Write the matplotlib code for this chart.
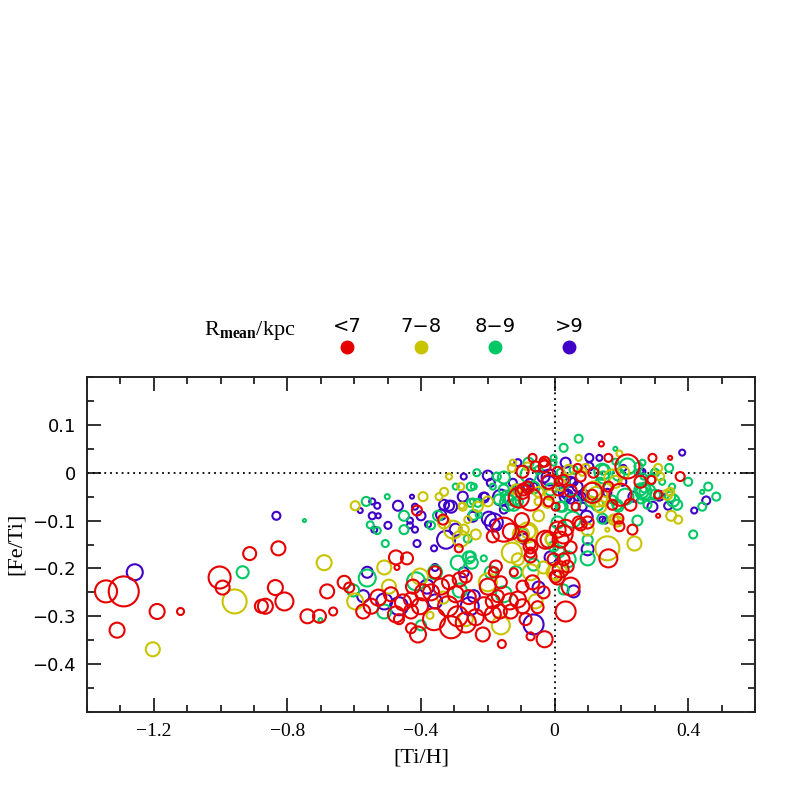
import matplotlib
matplotlib.use("Agg")
import matplotlib.pyplot as plt
from matplotlib.ticker import MultipleLocator, FixedLocator

plt.rcParams["mathtext.fontset"] = "custom"
plt.rcParams["mathtext.rm"] = "Liberation Serif"
plt.rcParams["mathtext.bf"] = "Liberation Serif:bold"

# ---------------- data: [Ti/H], [Fe/Ti], weight (symbol size variable) ----------------
red_pts = [
    (-1.343,-0.248,11),(-1.290,-0.248,15),(-1.310,-0.329,7.5),(-1.190,-0.290,7.5),(-1.120,-0.290,3.5),
    (-1.003,-0.219,11),(-0.994,-0.240,7),(-0.913,-0.169,6.5),(-0.827,-0.158,7),(-0.836,-0.240,7.5),
    (-0.878,-0.279,6.5),(-0.866,-0.279,7.5),(-0.809,-0.269,9),(-0.740,-0.300,7),(-0.704,-0.300,6.5),
    (-0.663,-0.290,4),(-0.681,-0.248,7),(-0.630,-0.229,6.5),(-0.615,-0.240,5),(-0.573,-0.290,7),
    (-0.549,-0.279,7.5),
    (-0.475,-0.177,7),(-0.442,-0.179,6),(-0.472,-0.198,2.5),(-0.528,-0.261,8),(-0.490,-0.254,7),
    (-0.454,-0.271,8),(-0.475,-0.296,8),(-0.466,-0.306,5),(-0.430,-0.265,7),(-0.430,-0.290,7),
    (-0.424,-0.238,7),(-0.394,-0.250,8),(-0.403,-0.279,8),(-0.430,-0.325,5),(-0.409,-0.338,8),
    (-0.370,-0.250,8),(-0.358,-0.208,6),(-0.361,-0.306,11),(-0.340,-0.238,8),(-0.316,-0.229,7),
    (-0.319,-0.279,10),(-0.310,-0.323,11),(-0.290,-0.300,10),(-0.296,-0.254,8),(-0.284,-0.223,7),
    (-0.266,-0.217,6),(-0.287,-0.158,4),(-0.334,-0.098,5),(-0.266,-0.313,10),(-0.236,-0.302,8),
    (-0.257,-0.260,7),(-0.212,-0.279,9),(-0.215,-0.338,7),(-0.200,-0.238,8),(-0.176,-0.196,6),
    (-0.182,-0.208,5),(-0.161,-0.229,6),(-0.170,-0.258,6),(-0.185,-0.269,7),(-0.164,-0.290,7),
    (-0.185,-0.296,8),(-0.158,-0.358,4),(-0.134,-0.269,8),(-0.131,-0.290,7),(-0.122,-0.208,4),
    (-0.110,-0.265,8),(-0.096,-0.279,7),(-0.096,-0.238,6),(-0.087,-0.306,6),(-0.072,-0.154,7),
    (-0.072,-0.175,6),(-0.066,-0.229,7),(-0.072,-0.342,4),(-0.030,-0.348,8),(-0.051,-0.281,6),
    (-0.033,-0.250,6),(0.009,-0.219,7),(-0.003,-0.181,6),(0.027,-0.181,6),(0.033,-0.290,10),
    (0.048,-0.238,9),(0.018,-0.202,8),(0.003,-0.217,6),(0.039,-0.196,6),(0.161,-0.179,9),
    (-0.152,-0.119,12),(-0.098,-0.099,7),(-0.072,-0.056,11),(-0.072,-0.150,5),(-0.072,-0.167,5),
    (-0.027,-0.140,9),(-0.066,0.031,4),(-0.096,0.002,6),(-0.033,0.021,4),(-0.018,-0.019,7),
    (0.027,-0.015,5),(-0.093,-0.035,6),(-0.412,-0.079,5),(0.233,-0.119,5),(0.194,-0.112,5),
    (0.099,-0.104,6),(0.078,-0.108,6),(0.027,-0.129,9),(0.009,-0.119,8),(0.018,-0.140,8),
    (0.048,-0.156,6),(0.227,-0.067,6),(0.173,-0.067,5),(0.310,-0.090,2),(0.310,-0.046,4),
    (0.063,-0.071,4),(0.113,-0.046,5),(0.140,0.060,2.5),(0.293,0.031,4),(0.346,0.031,2),
    (0.376,-0.008,4.5),(0.218,0.013,12),(0.161,0.031,4),(0.116,0.000,5),(0.078,-0.008,5),
    (0.113,-0.042,10),(0.197,-0.046,11),(0.257,-0.019,6),(0.290,-0.015,4),(-0.030,0.023,5),
    (-0.057,0.013,5),(-0.030,0.013,6),(0.009,0.002,5),(0.069,0.010,4),(0.161,-0.029,5),
    (0.012,-0.019,4),(-0.081,-0.031,6),(-0.096,-0.040,7),(-0.107,-0.052,10),(0.012,-0.035,6),
    (0.048,-0.038,6),(0.003,-0.071,4),(-0.018,-0.060,5),(0.191,-0.096,5),(0.033,-0.115,8),
    (0.072,-0.104,6),(-0.018,-0.140,8),(-0.131,-0.123,8),(-0.096,-0.133,5),(-0.185,-0.133,6),
]

yellow_pts = [
    (-1.203,-0.369,7),(-0.958,-0.269,12),(-0.690,-0.188,7.5),(-0.597,-0.269,8),(-0.597,-0.069,4.5),
    (-0.510,-0.198,7),(-0.496,-0.238,7),(-0.403,-0.217,8),(-0.373,-0.298,3.5),(-0.334,-0.261,6),
    (-0.266,-0.306,7),(-0.200,-0.229,9),(-0.161,-0.319,9),(-0.128,-0.167,10),(-0.110,-0.181,6),
    (-0.072,-0.208,8),(-0.057,-0.269,7),(-0.033,-0.198,6),(-0.003,-0.208,7),(0.009,-0.206,9),
    (-0.012,-0.140,5),(0.099,-0.119,6),(0.158,-0.119,2),(0.188,-0.102,5),(0.158,-0.158,12),
    (0.239,-0.148,7),(0.349,-0.090,5),(0.370,-0.098,4),(-0.394,-0.050,4.5),(-0.346,-0.050,3.5),
    (-0.331,-0.040,4),(-0.316,-0.008,3),(-0.281,-0.029,3.5),(-0.278,-0.069,3),(-0.331,-0.104,6),
    (-0.304,-0.119,9),(-0.281,-0.138,8),(-0.236,-0.129,5),(-0.260,-0.098,3.5),(-0.230,-0.071,5),
    (-0.101,-0.129,8),(-0.078,-0.123,7),(-0.048,-0.090,5.5),(-0.009,-0.138,6),(-0.125,0.021,3),
    (-0.081,0.013,4),(-0.021,-0.063,5),(-0.048,-0.060,4),(0.146,-0.060,5),(0.137,-0.071,6),
    (0.337,-0.046,5),(0.194,0.040,3),(0.310,0.010,4),(0.316,-0.008,4),(0.206,0.000,6),
    (0.072,0.031,3),(0.093,0.010,4),(0.116,-0.035,8),(0.173,-0.010,8),(0.182,-0.019,6),
    (0.176,-0.098,5),(0.346,-0.040,4),(-0.128,0.010,4),(0.042,0.006,5),(0.084,0.002,4),
    (-0.048,-0.040,5),(0.018,-0.025,6),(0.128,-0.050,10),(0.179,-0.096,4),(-0.015,-0.046,5),
    (-0.275,-0.071,4),(-0.200,-0.060,5),(-0.116,-0.035,5),(-0.272,-0.119,5),(-0.081,-0.125,10),
]

green_pts = [
    (-0.934,-0.208,6),(-0.701,-0.308,2),(-0.749,-0.100,1.5),(-0.603,-0.246,6),(-0.561,-0.220,8.5),
    (-0.552,-0.109,3.5),(-0.531,-0.121,3.5),(-0.510,-0.290,7),(-0.415,-0.227,9),(-0.400,-0.319,5),
    (-0.358,-0.208,7),(-0.284,-0.246,7),(-0.290,-0.188,7),(-0.257,-0.177,6),(-0.248,-0.188,6),
    (-0.212,-0.179,3),(-0.191,-0.208,6),(-0.152,-0.254,8),(-0.116,-0.208,6),(-0.063,-0.192,6),
    (0.027,-0.244,5),(0.039,-0.181,8),(0.099,-0.179,7),(0.099,-0.140,5),(0.143,-0.096,5),
    (0.248,-0.100,5),(0.054,-0.098,8),(-0.003,-0.154,5),(0.012,-0.165,6),(0.188,-0.067,5),
    (0.266,-0.040,8),(0.301,-0.046,5),(0.278,-0.067,4),(0.024,-0.071,5),(0.107,-0.060,5),
    (0.072,0.071,4),(0.182,0.050,2),(0.027,0.052,4),(0.343,0.010,4),(0.400,-0.019,4),
    (0.460,-0.029,4),(0.442,-0.040,2),(0.484,-0.050,4),(0.442,-0.071,4),(0.415,-0.129,4),
    (0.367,-0.067,5),(0.355,-0.058,6),(0.346,-0.050,5),(0.352,-0.029,3),(0.278,-0.040,8),
    (0.263,-0.040,6),(0.257,-0.035,6),(0.270,-0.031,5),(0.257,-0.058,3),(0.191,-0.071,5),
    (0.173,-0.056,4),(0.251,0.013,4),(0.301,0.000,4),(0.287,-0.015,5),(0.322,-0.019,3),
    (0.182,0.023,3),(0.218,0.013,8),(0.143,0.002,8),(0.146,-0.010,6),(0.057,0.006,4),
    (0.266,-0.008,3),(-0.501,-0.050,2.5),(-0.564,-0.060,4.5),(-0.451,-0.090,5),(-0.451,-0.119,4.5),
    (-0.370,-0.110,4),(-0.349,-0.090,5),(-0.507,-0.148,3.5),(-0.260,-0.138,4),(-0.245,-0.060,3),
    (-0.251,-0.029,4),(-0.233,0.000,3.5),(-0.227,-0.088,3),(-0.173,-0.008,4),(-0.167,-0.056,5),
    (-0.143,-0.050,6),(-0.096,-0.129,6),(-0.110,-0.060,5),(-0.078,0.021,5),(-0.003,0.021,3),
    (0.018,0.000,4),(-0.152,-0.010,6),(-0.110,-0.035,5),(-0.012,-0.035,6),(0.018,-0.071,5),
    (-0.003,0.031,3),(0.263,0.021,3),(-0.078,-0.004,8),(-0.048,0.006,4),(0.146,0.006,5),
    (0.191,-0.004,6),(0.137,-0.021,5),(0.248,0.000,3),(0.299,0.002,3),(0.027,-0.021,6),
    (-0.063,-0.031,6),(-0.125,-0.052,8),(0.054,-0.063,8),(0.128,-0.067,6),(0.212,-0.050,8),
    (0.009,-0.104,6),(-0.296,-0.029,3),(-0.242,-0.029,3),(-0.251,-0.063,4),(-0.230,-0.063,4),
    (-0.152,-0.035,5),(-0.185,-0.029,3),(-0.140,-0.063,8),(-0.122,-0.067,6),(-0.242,-0.088,5),
    (-0.251,-0.175,5),
]

blue_pts = [
    (-1.257,-0.208,8),(-0.833,-0.090,4),(-0.573,-0.258,6),(-0.561,-0.208,5.5),(-0.540,-0.119,3),
    (-0.510,-0.269,8),(-0.466,-0.279,9),(-0.382,-0.238,7),(-0.358,-0.269,7),(-0.358,-0.198,3.5),
    (-0.272,-0.208,5),(-0.254,-0.279,9),(-0.242,-0.258,6),(-0.063,-0.317,10),(-0.048,-0.240,6),
    (-0.012,-0.177,6),(0.057,-0.248,6),(0.099,-0.160,6),(0.152,-0.100,3),(0.236,-0.050,5),
    (0.293,-0.071,5),(0.069,-0.050,4),(0.033,-0.050,6),(0.382,0.042,3),(0.454,-0.058,4),
    (0.418,-0.079,3),(0.340,-0.069,4),(0.313,-0.048,5),(0.203,-0.019,4),(0.134,0.031,3),
    (0.104,0.031,4),(0.057,-0.019,4),(0.087,-0.046,5),(0.257,0.002,3),(0.206,0.010,3),
    (-0.582,-0.079,2.5),(-0.546,-0.060,3),(-0.531,-0.069,3),(-0.546,-0.090,3.5),(-0.528,-0.090,2.5),
    (-0.499,-0.110,3.5),(-0.469,-0.069,5),(-0.433,-0.100,3),(-0.433,-0.110,3),(-0.418,-0.119,3),
    (-0.427,-0.050,2),(-0.418,-0.071,3),(-0.400,-0.090,4.5),(-0.379,-0.108,3),(-0.340,-0.088,5),
    (-0.331,-0.067,5),(-0.316,-0.069,5),(-0.272,-0.008,3),(-0.275,-0.050,5),(-0.325,-0.140,9),
    (-0.412,-0.148,3.5),(-0.361,-0.158,3),(-0.245,-0.092,5),(-0.200,-0.006,5),(-0.209,-0.050,4),
    (-0.197,-0.096,7),(-0.182,-0.104,9),(-0.179,-0.108,5),(-0.093,-0.138,5),(-0.110,0.021,3.5),
    (-0.033,-0.008,6),(0.039,-0.046,5),(-0.125,-0.021,4),(-0.063,-0.029,4),(0.048,-0.056,4),
    (0.033,0.021,5),(0.104,0.013,4),(0.263,0.002,3),(-0.015,-0.010,8),(-0.018,-0.021,7),
    (0.048,-0.019,5),(-0.075,-0.021,4),(0.027,-0.040,5),(0.069,-0.029,5),(0.158,-0.042,4),
    (0.081,-0.050,4),(0.084,-0.071,4),(0.143,-0.098,3),(0.096,-0.092,6),(-0.310,-0.071,6),
    (-0.212,-0.052,5),(-0.161,-0.052,8),(-0.191,-0.021,4),(-0.152,-0.077,4),(-0.078,-0.029,5),
    (-0.296,-0.119,6),
]

group_labels = ["<7", "7\u22128", "8\u22129", ">9"]
group_colors = ["#e60000", "#c8c400", "#00c864", "#4000c8"]
groups = [red_pts, yellow_pts, green_pts, blue_pts]

x_ticks_major = [-1.2, -0.8, -0.4, 0.0, 0.4]
x_tick_labels = ["\u22121.2", "\u22120.8", "\u22120.4", "0", "0.4"]
y_ticks_major = [-0.4, -0.3, -0.2, -0.1, 0.0, 0.1]
y_tick_labels = ["\u22120.4", "\u22120.3", "\u22120.2", "\u22120.1", "0", "0.1"]

# ---------------- figure ----------------
W = 797
fig = plt.figure(figsize=(W / 100, W / 100), dpi=100)
ax = fig.add_axes([87 / W, 1 - 712 / W, (755 - 87) / W, (712 - 377) / W])
ax.set_xlim(-1.4, 0.6)
ax.set_ylim(-0.5, 0.2)

px2pt = 72.0 / 100.0
# plot order: blue, green, yellow, red
for idx in [3, 2, 1, 0]:
    pts = groups[idx]
    xs = [p[0] for p in pts]
    ys = [p[1] for p in pts]
    ss = [(2 * p[2] * px2pt) ** 2 for p in pts]
    ax.scatter(xs, ys, s=ss, facecolors="none", edgecolors=group_colors[idx],
               linewidths=1.5, zorder=3)

ax.axhline(0, color="black", ls=(0, (1, 2.2)), lw=1.3, zorder=2)
ax.axvline(0, color="black", ls=(0, (1, 2.2)), lw=1.3, zorder=2)

ax.xaxis.set_major_locator(FixedLocator(x_ticks_major))
ax.xaxis.set_minor_locator(MultipleLocator(0.1))
ax.yaxis.set_major_locator(FixedLocator(y_ticks_major))
ax.yaxis.set_minor_locator(MultipleLocator(0.05))
ax.set_xticklabels(x_tick_labels, fontfamily="Liberation Serif", fontsize=14)
ax.set_yticklabels(y_tick_labels, fontfamily="DejaVu Sans", fontsize=13)
ax.tick_params(which="both", direction="in", top=True, right=True, color="#222222", width=1.3)
ax.tick_params(which="major", length=10, pad=8)
ax.tick_params(which="minor", length=5)
for sp in ax.spines.values():
    sp.set_linewidth(1.4)
    sp.set_color("#222222")

fig.text(421 / W, 1 - 758 / W, "[Ti/H]", ha="center", va="center",
         fontfamily="Liberation Serif", fontsize=16)
fig.text(16 / W, 1 - 544 / W, "[Fe/Ti]", ha="center", va="center", rotation=90,
         fontfamily="Liberation Serif", fontsize=16)

# legend
fig.text(250 / W, 1 - 330 / W, r"R$_{\mathbf{mean}}$/kpc", ha="center", va="center",
         fontfamily="Liberation Serif", fontsize=16)
leg_x = [347, 421, 495, 569]
for lx, lab, col in zip(leg_x, group_labels, group_colors):
    fig.text(lx / W, 1 - 326 / W, lab, ha="center", va="center",
             fontfamily="DejaVu Sans", fontsize=14)
    fig.lines.append(plt.Line2D([lx / W], [1 - 347 / W], transform=fig.transFigure,
                                marker="o", ms=9, color=col, mec=col, ls="none"))

fig.savefig("out.png", dpi=100)
